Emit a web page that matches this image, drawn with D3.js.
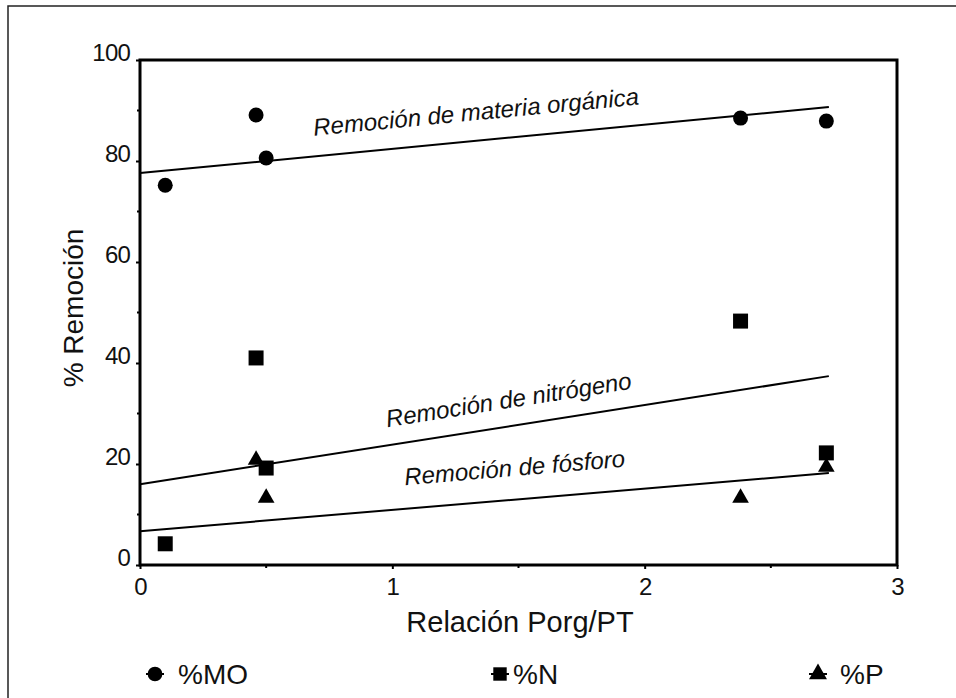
<!DOCTYPE html>
<html>
<head>
<meta charset="utf-8">
<script src="https://cdn.jsdelivr.net/npm/d3@7"></script>
<style>
  body { margin: 0; background: #fff; }
  svg { display: block; font-family: "Liberation Sans", Arial, sans-serif; }
</style>
</head>
<body>
<div id="chart"></div>
<script>
// values
const xValues = [0.1, 0.46, 0.5, 2.38, 2.72];
const moValues = [75.2, 89.1, 80.6, 88.5, 87.9];
const nValues = [4.2, 41.0, 19.2, 48.3, 22.2];
const pXValues = [0.46, 0.5, 2.38, 2.72];
const pValues = [20.8, 13.3, 13.3, 19.4];

// fitted lines: value at x = 0 and at x = 2.73
const trendX = [0, 2.73];
const moTrend = [77.6, 90.7];
const nTrend = [16.0, 37.4];
const pTrend = [6.7, 18.2];

const trendLabels = ['Remoción de materia orgánica', 'Remoción de nitrógeno', 'Remoción de fósforo'];
const labelAnchors = [[0.69, 85.0], [0.98, 27.3], [1.05, 15.8]];

const xTicks = [0, 1, 2, 3];
const xMinor = [0.5, 1.5, 2.5];
const yTicks = [0, 20, 40, 60, 80, 100];
const yMinor = [10, 30, 50, 70, 90];

const width = 956;
const height = 698;

const svg = d3.select('#chart')
  .append('svg')
  .attr('width', width)
  .attr('height', height);

// outer frame (only the top and left edges show in the picture)
svg.append('rect')
  .attr('x', 8).attr('y', 6)
  .attr('width', 1000).attr('height', 1000)
  .attr('fill', 'none')
  .attr('stroke', '#222')
  .attr('stroke-width', 1.5);

const x = d3.scaleLinear().domain([0, 3]).range([140, 897]);
const y = d3.scaleLinear().domain([0, 100]).range([565, 60]);

// plot box
svg.append('rect')
  .attr('x', x(0)).attr('y', y(100))
  .attr('width', x(3) - x(0)).attr('height', y(0) - y(100))
  .attr('fill', 'none')
  .attr('stroke', '#000')
  .attr('stroke-width', 3);

// axes
const xAxis = svg.append('g')
  .attr('transform', `translate(0, ${y(0)})`)
  .call(d3.axisBottom(x).tickValues(xTicks).tickSize(4).tickPadding(9).tickFormat(d3.format('d')));
xAxis.append('g').selectAll('line').data(xMinor).enter().append('line')
  .attr('x1', d => x(d)).attr('x2', d => x(d)).attr('y1', 0).attr('y2', 3)
  .attr('stroke', '#000').attr('stroke-width', 2);

const yAxis = svg.append('g')
  .attr('transform', `translate(${x(0)}, 0)`)
  .call(d3.axisLeft(y).tickValues(yTicks).tickSize(4).tickPadding(6).tickFormat(d3.format('d')));
yAxis.selectAll('.tick text').attr('dy', '0');
yAxis.append('g').selectAll('line').data(yMinor).enter().append('line')
  .attr('x1', -3).attr('x2', 0).attr('y1', d => y(d)).attr('y2', d => y(d))
  .attr('stroke', '#000').attr('stroke-width', 2);

svg.selectAll('.domain').remove();
svg.selectAll('.tick line').attr('stroke', '#000').attr('stroke-width', 2);
svg.selectAll('.tick text')
  .attr('font-size', 24)
  .attr('fill', '#111')
  .attr('font-family', '"Liberation Sans", Arial, sans-serif')
  .attr('letter-spacing', '-0.8');

// axis titles
svg.append('text')
  .attr('x', 520).attr('y', 632)
  .attr('text-anchor', 'middle')
  .attr('font-size', 29)
  .attr('fill', '#111')
  .text('Relación Porg/PT');

svg.append('text')
  .attr('transform', 'translate(83, 308) rotate(-90)')
  .attr('text-anchor', 'middle')
  .attr('font-size', 28)
  .attr('fill', '#111')
  .text('% Remoción');

// trend lines with their italic labels
const trends = [moTrend, nTrend, pTrend];
trends.forEach((t, i) => {
  svg.append('line')
    .attr('x1', x(trendX[0])).attr('y1', y(t[0]))
    .attr('x2', x(trendX[1])).attr('y2', y(t[1]))
    .attr('stroke', '#000')
    .attr('stroke-width', 2);
  const angle = Math.atan2(y(t[1]) - y(t[0]), x(trendX[1]) - x(trendX[0])) * 180 / Math.PI;
  const a = labelAnchors[i];
  svg.append('text')
    .attr('transform', `translate(${x(a[0])}, ${y(a[1])}) rotate(${angle})`)
    .attr('font-size', 24)
    .attr('font-style', 'italic')
    .attr('fill', '#111')
    .text(trendLabels[i]);
});

// points
const moData = xValues.map((d, i) => [d, moValues[i]]);
const nData = xValues.map((d, i) => [d, nValues[i]]);
const pData = pXValues.map((d, i) => [d, pValues[i]]);

svg.append('g').selectAll('circle').data(moData).enter().append('circle')
  .attr('cx', d => x(d[0])).attr('cy', d => y(d[1]))
  .attr('r', 7.5)
  .attr('fill', '#000');

const square = d3.symbol().type(d3.symbolSquare).size(225);
svg.append('g').selectAll('path').data(nData).enter().append('path')
  .attr('transform', d => `translate(${x(d[0])}, ${y(d[1])})`)
  .attr('d', square)
  .attr('fill', '#000');

const triangle = d3.symbol().type(d3.symbolTriangle).size(120);
svg.append('g').selectAll('path').data(pData).enter().append('path')
  .attr('transform', d => `translate(${x(d[0])}, ${y(d[1])})`)
  .attr('d', triangle)
  .attr('fill', '#000');

// legend
const legendItems = [
  { label: '%MO', cx: 155, dx: 23, symbol: d3.symbolCircle, size: 170 },
  { label: '%N', cx: 500, dx: 13, symbol: d3.symbolSquare, size: 180 },
  { label: '%P', cx: 818, dx: 22, symbol: d3.symbolTriangle, size: 140 }
];
const legend = svg.append('g').selectAll('g').data(legendItems).enter().append('g')
  .attr('transform', d => `translate(${d.cx}, 674)`);
legend.append('line')
  .attr('x1', -9).attr('x2', 9)
  .attr('stroke', '#000').attr('stroke-width', 2);
legend.append('path')
  .attr('d', d => d3.symbol().type(d.symbol).size(d.size)())
  .attr('fill', '#000');
legend.append('text')
  .attr('x', d => d.dx)
  .attr('y', 10)
  .attr('font-size', 28)
  .attr('fill', '#111')
  .text(d => d.label);
</script>
</body>
</html>
